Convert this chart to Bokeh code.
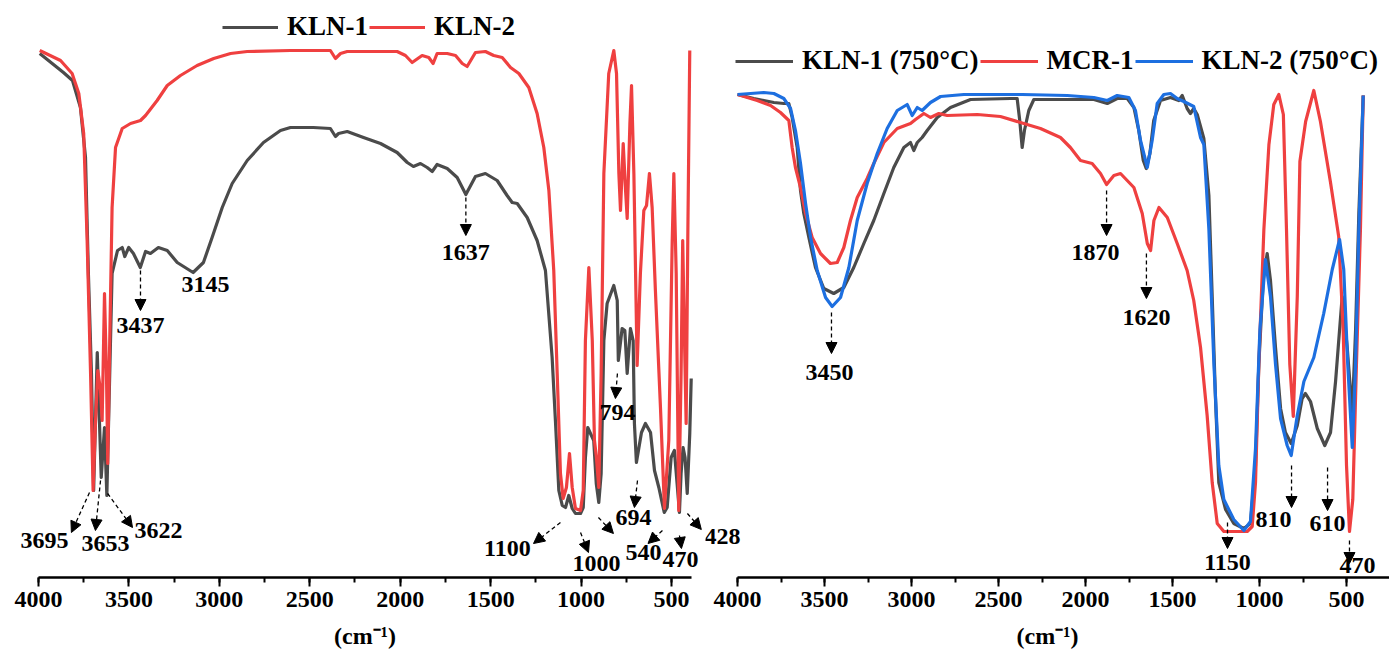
from bokeh.plotting import figure
from bokeh.models import (Range1d, SingleIntervalTicker, Legend, LegendItem,
                          Label, Arrow, NormalHead)
from bokeh.layouts import row
from bokeh.embed import file_html
from bokeh.resources import INLINE

# ---------------- data: left panel (transmittance, a.u.) ----------------
kln1_wn = [3993, 3862, 3812, 3768, 3740, 3724, 3707, 3695, 3675, 3653, 3635, 3622, 3593, 3563,
           3537, 3523, 3501, 3475, 3437, 3408, 3381, 3337, 3288, 3233, 3145, 3088, 3040, 2984,
           2929, 2846, 2756, 2662, 2607, 2551, 2480, 2386, 2358, 2341, 2293, 2203, 2109, 2017,
           1961, 1927, 1888, 1851, 1823, 1796, 1740, 1685, 1637, 1584, 1529, 1464, 1409, 1381,
           1353, 1298, 1243, 1197, 1160, 1141, 1123, 1104, 1086, 1068, 1049, 1031, 1003, 988,
           976, 963, 948, 930, 916, 902, 889, 874, 856, 819, 800, 794, 773, 758, 745, 727, 712,
           705, 694, 666, 644, 616, 594, 570, 540, 524, 502, 484, 469, 456, 447, 436, 425, 413,
           399, 391]
kln1_t = [524, 505, 497, 470, 420, 304, 204, 87, 225, 100, 150, 82, 304, 327,
          330, 321, 330, 324, 310, 326, 324, 330, 327, 315, 305, 315, 340, 370,
          394, 417, 435, 447, 450, 450, 450, 449, 441, 444, 446, 440, 434, 425,
          415, 411, 414, 410, 406, 413, 409, 400, 383, 401, 404, 397, 382, 375,
          374, 360, 337, 307, 220, 154, 87, 72, 70, 82, 69, 64, 64, 70,
          120, 150, 144, 137, 94, 75, 104, 237, 274, 292, 277, 217, 249, 247, 204, 249, 237,
          154, 115, 145, 154, 145, 107, 90, 65, 70, 120, 127, 94, 65, 104, 130, 120, 84,
          144, 199]

kln2_wn = [3993, 3878, 3814, 3777, 3750, 3731, 3712, 3698, 3685, 3672, 3657, 3648, 3635, 3624,
           3617, 3606, 3593, 3574, 3537, 3491, 3436, 3408, 3344, 3288, 3215, 3123, 3031, 2938,
           2846, 2607, 2386, 2358, 2330, 2293, 2017, 1971, 1934, 1879, 1842, 1818, 1796, 1740,
           1694, 1657, 1630, 1584, 1529, 1483, 1436, 1390, 1344, 1289, 1243, 1206, 1178, 1151,
           1132, 1114, 1099, 1081, 1064, 1049, 1031, 1003, 988, 976, 957, 938, 926, 915, 902,
           889, 874, 847, 819, 804, 791, 782, 767, 754, 745, 730, 721, 708, 690, 672, 653, 638,
           622, 607, 589, 561, 539, 515, 496, 487, 474, 460, 447, 438, 428, 419, 410, 399]
kln2_t = [527, 517, 504, 484, 444, 337, 204, 87, 154, 207, 187, 157, 284, 204,
          114, 237, 370, 430, 449, 454, 457, 462, 477, 492, 502, 512, 519, 524,
          526, 527, 527, 519, 524, 526, 526, 522, 515, 522, 520, 514, 524, 524,
          522, 514, 511, 525, 526, 522, 520, 510, 504, 490, 464, 430, 387, 307,
          204, 104, 79, 90, 124, 90, 69, 67, 87, 237, 310, 237, 137, 120, 90,
          204, 404, 504, 527, 504, 404, 367, 434, 387, 359, 454, 492, 404, 212, 304, 367, 372,
          404, 370, 287, 170, 69, 137, 337, 404, 304, 67, 204, 337, 237, 154, 337, 527]

# ---------------- data: right panel (transmittance, a.u.) ----------------
c1_wn = [4000, 3906, 3849, 3791, 3734, 3705, 3686, 3657, 3638, 3619, 3590, 3552, 3504, 3447,
         3389, 3332, 3274, 3217, 3159, 3102, 3044, 3006, 2987, 2967, 2939, 2910, 2852, 2776,
         2661, 2431, 2393, 2378, 2364, 2351, 2326, 2297, 2105, 1952, 1875, 1818, 1760, 1722,
         1694, 1668, 1651, 1630, 1608, 1569, 1512, 1464, 1444, 1416, 1397, 1378, 1358, 1320,
         1291, 1272, 1253, 1234, 1195, 1148, 1090, 1052, 1023, 1004, 979, 956, 937, 908, 879,
         851, 818, 783, 755, 736, 707, 668, 625, 592, 563, 525, 496, 467, 448, 429, 404]
c1_t = [483, 479, 477, 475, 474, 474, 460, 430, 387, 364, 340, 310, 289, 284,
        290, 310, 334, 357, 384, 410, 430, 435, 427, 435, 440, 447, 460, 470,
        478, 479, 479, 457, 430, 447, 467, 478, 478, 478, 474, 479, 479, 470,
        447, 417, 409, 424, 457, 477, 480, 477, 482, 469, 464, 469, 463, 439,
        382, 281, 179, 95, 68, 54, 49, 54, 112, 213, 297, 324, 297, 230, 169,
        145, 134, 152, 179, 184, 176, 149, 132, 145, 196, 281, 230, 164, 247, 365, 482]

mcr_wn = [4000, 3887, 3810, 3753, 3705, 3686, 3667, 3638, 3609, 3571, 3523, 3466, 3427, 3389,
          3351, 3312, 3255, 3217, 3159, 3082, 3006, 2977, 2929, 2891, 2843, 2795, 2622, 2489,
          2374, 2259, 2144, 2087, 2029, 1962, 1914, 1879, 1837, 1799, 1722, 1674, 1645, 1626,
          1607, 1578, 1530, 1473, 1416, 1378, 1339, 1301, 1272, 1243, 1205, 1071, 1042, 1023,
          1004, 975, 946, 918, 889, 863, 845, 826, 806, 783, 768, 735, 688, 650, 592, 545, 519,
          500, 483, 464, 443, 420, 404]
mcr_t = [483, 477, 472, 465, 457, 430, 410, 390, 364, 340, 324, 314, 315, 330,
         357, 380, 399, 414, 435, 449, 454, 458, 464, 460, 464, 462, 463, 461,
         455, 449, 440, 430, 417, 414, 404, 393, 402, 404, 390, 364, 334, 327,
         357, 370, 360, 334, 307, 277, 230, 162, 95, 54, 46, 46, 51, 95,
         213, 348, 433, 473, 483, 463, 348, 213, 161, 281, 416, 456, 487, 456, 395, 341, 247,
         112, 46, 78, 213, 348, 482]

c2_wn = [4000, 3925, 3849, 3791, 3734, 3695, 3667, 3638, 3609, 3580, 3542, 3494, 3456, 3408,
         3360, 3312, 3255, 3197, 3140, 3082, 3025, 2996, 2967, 2939, 2891, 2833, 2699, 2431,
         2364, 2105, 1952, 1875, 1818, 1751, 1713, 1684, 1645, 1617, 1588, 1550, 1512, 1473,
         1435, 1378, 1339, 1320, 1291, 1262, 1234, 1205, 1148, 1090, 1052, 1023, 998, 966, 937,
         908, 879, 841, 818, 783, 745, 688, 631, 582, 540, 516, 493, 467, 448, 429, 404]
c2_t = [483, 484, 485, 484, 479, 469, 447, 414, 374, 340, 307, 280, 271, 280,
        310, 357, 394, 424, 449, 467, 473, 462, 470, 467, 475, 481, 483, 483,
        483, 482, 480, 477, 482, 480, 467, 437, 410, 437, 474, 483, 484, 479,
        476, 471, 440, 433, 348, 213, 112, 78, 58, 47, 56, 129, 247, 318, 281,
        213, 159, 132, 122, 162, 196, 220, 264, 308, 338, 308, 213, 130, 213, 348, 482]

tick_interval = 500

# annotations: (label, x_start, y_start, x_end, y_end, label_x, label_y)
left_notes = [
    ("3437", 3436, 307, 3436, 267, 3436, 252),
    ("1637", 1637, 380, 1637, 342, 1637, 325),
    ("3695", 3718, 85, 3818, 45, 3967, 37),
    ("3653", 3657, 97, 3685, 47, 3630, 34),
    ("3622", 3618, 84, 3480, 50, 3337, 47),
    ("1100", 1114, 55, 1263, 34, 1407, 29),
    ("1000", 1003, 45, 959, 25, 915, 14),
    ("794", 799, 204, 810, 179, 799, 165),
    ("694", 688, 97, 705, 70, 710, 60),
    ("540", 550, 47, 630, 34, 655, 25),
    ("470", 456, 42, 445, 29, 450, 18),
]
left_extra_arrows = [(904, 60, 821, 44), (412, 64, 335, 48)]
right_notes = [
    ("3450", 3460, 265, 3460, 224, 3471, 205),
    ("1870", 1879, 387, 1879, 342, 1943, 325),
    ("1620", 1650, 324, 1650, 279, 1650, 260),
    ("1150", 1184, 55, 1184, 29, 1184, 15),
    ("810", 816, 112, 816, 70, 920, 58),
    ("610", 609, 110, 609, 67, 609, 54),
    ("470", 483, 37, 483, 14, 437, 12),
]

GREY, RED, BLUE = "#4b4b4b", "#ef4040", "#1d6fe0"
SERIF = "Liberation Serif"
NBSP = "\u00a0"


def make_fig(width, x_start, x_end, axis_end, axis_label):
    p = figure(width=width, height=652, x_range=Range1d(x_start, x_end), y_range=Range1d(0, 567),
               output_backend="svg", toolbar_location=None, y_axis_location=None,
               min_border_left=0, min_border_right=0, min_border_top=10, min_border_bottom=75)
    p.outline_line_color = None
    p.grid.visible = False
    p.background_fill_alpha = 0
    ax = p.xaxis[0]
    ax.bounds = (4000, axis_end)
    ax.ticker = SingleIntervalTicker(interval=tick_interval, num_minor_ticks=2)
    ax.axis_line_width = 2.5
    ax.major_tick_line_width = 2
    ax.minor_tick_line_width = 2
    ax.major_tick_out = 9
    ax.major_tick_in = 0
    ax.minor_tick_out = 5
    ax.minor_tick_in = 0
    ax.major_label_text_font = SERIF
    ax.major_label_text_font_style = "bold"
    ax.major_label_text_font_size = "24px"
    ax.major_label_text_color = "black"
    ax.major_label_text_line_height = 1.0
    ax.major_label_standoff = 5
    ax.axis_label = axis_label
    ax.axis_label_text_font = SERIF
    ax.axis_label_text_font_style = "bold"
    ax.axis_label_text_font_size = "24px"
    ax.axis_label_text_color = "black"
    ax.axis_label_text_line_height = 1.0
    ax.axis_label_standoff = 13
    return p


def add_arrow(p, xs, ys, xe, ye):
    p.add_layout(Arrow(x_start=xs, y_start=ys, x_end=xe, y_end=ye, line_width=1.3,
                       line_dash="4 3", line_color="black",
                       end=NormalHead(size=11, fill_color="black", line_color="black")))


def add_label(p, x, y, text, **kw):
    p.add_layout(Label(x=x, y=y, text=text, text_align="center", text_baseline="middle",
                       text_font=SERIF, text_font_style="bold", text_font_size="24px",
                       text_color="black", **kw))


def add_notes(p, notes):
    for lab, xs, ys, xe, ye, lx, ly in notes:
        add_arrow(p, xs, ys, xe, ye)
        add_label(p, lx, ly, lab)


def make_legend(p, items, loc, glyph_w):
    leg = Legend(items=items, orientation="horizontal", location=loc,
                 label_text_font=SERIF, label_text_font_style="bold",
                 label_text_font_size="27px", label_text_color="black",
                 glyph_width=glyph_w, glyph_height=20, label_standoff=9, spacing=1,
                 padding=0, margin=0, border_line_color=None, background_fill_alpha=0)
    p.add_layout(leg)


# ---------------- left figure (axis 4000 -> 389) ----------------
p1 = make_fig(705, 4210, 312, 389, NBSP * 4 + "(cm⁻¹)")
r1 = p1.line(kln1_wn, kln1_t, line_color=GREY, line_width=3.2, line_join="round")
r2 = p1.line(kln2_wn, kln2_t, line_color=RED, line_width=3.2, line_join="round")
add_label(p1, 3077, 293, "3145")
add_notes(p1, left_notes)
for xs, ys, xe, ye in left_extra_arrows:
    add_arrow(p1, xs, ys, xe, ye)
make_legend(p1, [LegendItem(label="KLN-1", renderers=[r1]),
                 LegendItem(label="KLN-2", renderers=[r2])], (222, 535), 56)

# ---------------- right figure (axis 4000 -> 253) ----------------
p2 = make_fig(684, 4184, 253, 253, "(cm⁻¹)")
g1 = p2.line(c1_wn, c1_t, line_color=GREY, line_width=3.2, line_join="round")
g2 = p2.line(mcr_wn, mcr_t, line_color=RED, line_width=3.2, line_join="round")
g3 = p2.line(c2_wn, c2_t, line_color=BLUE, line_width=3.2, line_join="round")
add_notes(p2, right_notes)
# label of the 428 band of the left panel, which spills over into the gap
add_label(p2, 17, 41, "428", x_units="screen")
make_legend(p2, [LegendItem(label="KLN-1 (750°C)", renderers=[g1]),
                 LegendItem(label="MCR-1", renderers=[g2]),
                 LegendItem(label="KLN-2 (750°C)", renderers=[g3])], (30, 501), 58)

layout = row(p1, p2)
open("out.html", "w").write(file_html(layout, INLINE))
